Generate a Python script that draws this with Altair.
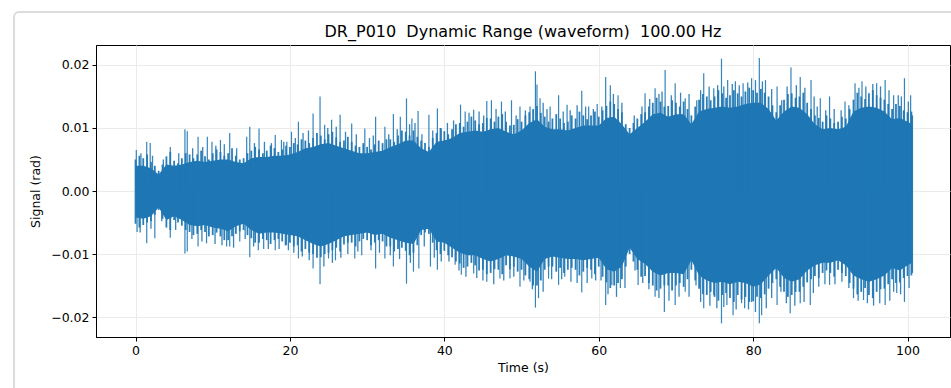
import altair as alt
import pandas as pd

# ---- data (values in milli-radians) ----
# outer edge of the waveform, sampled every second (t = 0..100) and at 100.6 s
env_t = list(range(101)) + [100.6]
env_hi = [5.0, 5.2, 4.6, 3.2, 5.5, 4.8, 5.2, 5.8, 5.8, 5.5,
          6.0, 6.2, 6.0, 5.6, 5.2, 6.4, 6.6, 6.4, 6.8, 6.6,
          7.0, 7.4, 8.0, 8.4, 8.8, 9.0, 8.5, 8.0, 7.8, 7.0,
          7.0, 7.4, 7.6, 8.2, 8.8, 9.4, 9.6, 8.0, 7.0, 9.2,
          9.5, 9.8, 10.8, 11.0, 11.2, 10.8, 11.5, 11.8, 11.0, 10.5,
          11.0, 12.5, 13.5, 11.8, 11.5, 11.5, 11.0, 11.5, 12.0, 12.0,
          11.8, 13.5, 13.8, 12.5, 10.0, 11.5, 12.5, 14.0, 14.2, 13.5,
          14.0, 14.2, 12.0, 14.5, 15.0, 15.0, 15.5, 15.2, 15.5, 15.8,
          16.0, 16.2, 15.0, 12.5, 14.5, 15.5, 15.0, 14.0, 12.0, 11.0,
          11.5, 11.0, 11.5, 14.5, 15.0, 15.5, 15.2, 14.5, 13.0, 13.5,
          12.5, 12.0]
env_lo = [5.2, 5.4, 4.8, 3.0, 5.8, 4.6, 5.5, 6.5, 6.8, 6.5,
          7.0, 7.2, 7.8, 6.8, 6.2, 7.5, 8.2, 7.8, 7.8, 8.0,
          8.2, 8.6, 9.2, 10.0, 10.5, 9.8, 9.0, 8.5, 8.2, 8.0,
          7.8, 8.2, 8.0, 8.8, 9.2, 9.5, 9.8, 7.0, 6.8, 9.4,
          9.5, 10.5, 11.5, 12.0, 11.8, 12.5, 13.0, 12.5, 11.8, 12.0,
          12.5, 14.0, 15.0, 12.5, 12.0, 12.2, 12.5, 12.5, 12.8, 12.5,
          12.0, 14.5, 15.0, 14.0, 10.0, 12.5, 13.5, 15.0, 15.5, 15.0,
          15.0, 15.2, 12.5, 15.5, 16.5, 16.8, 16.5, 17.0, 16.5, 16.8,
          17.5, 17.0, 15.5, 14.0, 16.0, 16.5, 16.0, 14.5, 13.5, 13.0,
          13.0, 12.5, 13.5, 15.5, 16.0, 16.5, 16.0, 15.5, 14.0, 14.5,
          13.5, 13.0]

# outer edge at the half seconds (t = 0.5 .. 100.5)
half_t = [k + 0.5 for k in range(101)]
half_hi = [5.6, 5.8, 4.0, 4.2, 6.2, 4.4, 6.0, 5.2, 6.4, 5.0,
           6.6, 5.6, 6.8, 5.0, 6.0, 7.0, 6.0, 7.2, 6.2, 7.2,
           7.6, 8.2, 7.6, 9.2, 8.2, 9.4, 7.8, 8.6, 7.2, 7.6,
           6.6, 8.0, 8.2, 7.8, 9.6, 8.8, 8.6, 7.6, 8.4, 10.0,
           9.0, 10.6, 10.2, 11.8, 10.6, 11.6, 11.0, 12.2, 10.4, 11.4,
           12.0, 13.0, 12.4, 11.0, 12.2, 10.8, 12.0, 12.6, 11.4, 12.6,
           12.8, 14.2, 13.0, 10.6, 10.8, 12.2, 13.4, 14.8, 13.4, 14.4,
           13.4, 13.0, 13.4, 15.4, 14.4, 16.0, 14.8, 16.0, 15.0, 16.4,
           15.6, 15.6, 13.6, 13.6, 15.4, 14.8, 15.6, 13.0, 11.6, 12.0,
           10.8, 11.8, 13.0, 15.6, 14.6, 16.0, 14.8, 13.8, 13.8, 12.8,
           12.6]
half_lo = [5.8, 5.0, 3.8, 4.4, 6.2, 5.0, 6.2, 7.0, 6.2, 7.2,
           6.6, 7.8, 7.2, 6.4, 7.0, 8.2, 7.6, 8.4, 7.6, 8.6,
           8.8, 9.6, 9.8, 10.6, 10.0, 9.4, 9.6, 8.2, 8.8, 7.6,
           8.6, 7.8, 8.8, 9.6, 9.0, 10.2, 8.6, 6.6, 8.2, 10.0,
           10.2, 11.2, 12.2, 11.4, 12.6, 13.2, 12.4, 13.2, 12.4, 12.8,
           13.4, 15.0, 14.2, 12.0, 12.8, 13.0, 12.2, 13.4, 12.2, 13.2,
           13.6, 15.4, 14.6, 12.0, 11.2, 13.6, 14.6, 15.8, 15.0, 15.8,
           14.6, 14.0, 14.2, 16.4, 16.0, 17.4, 16.2, 17.6, 17.2, 17.6,
           16.8, 16.4, 14.6, 15.2, 16.8, 16.0, 15.2, 14.0, 13.8, 12.6,
           13.6, 13.0, 14.6, 16.4, 15.4, 17.0, 15.6, 14.8, 14.6, 13.8,
           13.4]

# solid (dense) part of the waveform, every second
core_hi = [4.0, 4.0, 3.6, 2.6, 4.2, 4.0, 4.2, 4.6, 4.8, 4.6,
           4.8, 5.0, 5.0, 4.6, 4.4, 5.2, 5.4, 5.4, 5.6, 5.6,
           5.8, 6.2, 6.8, 7.0, 7.4, 7.6, 7.2, 6.8, 6.4, 6.0,
           6.0, 6.2, 6.4, 7.0, 7.4, 8.0, 8.0, 6.8, 6.2, 7.8,
           8.0, 8.4, 9.2, 9.4, 9.6, 9.4, 9.8, 10.0, 9.4, 9.0,
           9.6, 10.8, 11.4, 10.2, 9.8, 9.8, 9.6, 10.0, 10.4, 10.4,
           10.4, 11.6, 11.8, 10.6, 9.0, 10.0, 11.0, 12.2, 12.4, 11.8,
           12.2, 12.2, 10.6, 12.6, 13.0, 13.2, 13.4, 13.2, 13.4, 13.8,
           14.0, 14.0, 13.0, 11.2, 12.6, 13.4, 13.2, 12.2, 10.6, 9.8,
           10.0, 9.8, 10.2, 12.6, 13.2, 13.4, 13.2, 12.6, 11.4, 11.6,
           11.0, 10.6]
core_lo = [4.2, 4.4, 4.0, 2.6, 4.6, 4.0, 4.6, 5.4, 5.6, 5.4,
           5.8, 6.0, 6.4, 5.6, 5.2, 6.2, 6.8, 6.6, 6.6, 6.8,
           7.0, 7.2, 7.8, 8.4, 8.8, 8.4, 7.8, 7.2, 7.0, 6.8,
           6.6, 7.0, 6.8, 7.4, 7.8, 8.2, 8.4, 6.2, 6.0, 8.0,
           8.2, 9.0, 9.8, 10.2, 10.2, 10.8, 11.2, 10.8, 10.2, 10.4,
           10.8, 12.0, 12.8, 10.8, 10.4, 10.6, 10.8, 10.8, 11.0, 10.8,
           10.6, 12.4, 12.8, 12.0, 9.0, 10.8, 11.6, 12.8, 13.4, 13.0,
           13.0, 13.2, 11.0, 13.4, 14.2, 14.6, 14.4, 14.8, 14.4, 14.6,
           15.2, 14.8, 13.4, 12.2, 13.8, 14.4, 14.0, 12.6, 11.8, 11.4,
           11.4, 11.0, 11.8, 13.4, 14.0, 14.4, 14.0, 13.4, 12.2, 12.6,
           11.8, 11.4]

# medium peaks standing out of the edge (time s, |value| mrad)
mid_hi = [(0.7, 6.0), (2.2, 5.6), (3.6, 5.0), (5.6, 6.0), (7.4, 6.8), (8.7, 7.0), (10.4, 7.2),
          (11.5, 7.4), (13.1, 6.8), (15.4, 7.6), (16.7, 7.8), (17.6, 7.6), (19.2, 7.8),
          (20.7, 8.4), (21.7, 9.2), (22.4, 9.6), (24.9, 10.0), (26.0, 10.2), (27.2, 9.4),
          (28.6, 9.0), (30.3, 8.4), (30.8, 8.8), (32.8, 9.0), (33.9, 9.8), (35.5, 10.6),
          (36.2, 10.8), (37.1, 9.0), (38.5, 9.6),
          (40.4, 10.8), (41.2, 11.2), (43.2, 12.4), (44.5, 12.6), (45.1, 12.0), (46.7, 13.0),
          (47.9, 12.6), (49.3, 12.0), (50.5, 12.8), (52.8, 14.0), (53.3, 13.0), (55.4, 12.6),
          (56.3, 12.8), (57.2, 13.6), (58.3, 13.4), (59.3, 13.0),
          (60.4, 13.4), (61.9, 15.4), (63.0, 14.0), (64.6, 12.0), (65.6, 13.4), (66.6, 14.6),
          (67.8, 15.4), (68.2, 15.8), (69.4, 15.2), (70.6, 15.6), (71.7, 15.4), (72.7, 14.4),
          (73.2, 16.0), (74.3, 16.6), (75.4, 16.8), (76.2, 16.6), (77.3, 17.0), (78.2, 16.8),
          (79.3, 17.2),
          (80.3, 17.6), (81.2, 17.4), (82.4, 16.2), (83.7, 14.4), (84.4, 16.6), (85.6, 16.8),
          (86.7, 16.4), (87.9, 15.0), (88.3, 13.4), (89.4, 12.8), (90.5, 13.0), (91.4, 12.8),
          (92.4, 13.6), (93.7, 16.4), (94.6, 16.6), (95.5, 17.0), (96.5, 16.6), (97.6, 16.0),
          (98.8, 15.2), (99.2, 15.0), (100.1, 14.2)]
mid_lo = [(0.6, 6.6), (2.0, 6.0), (3.4, 4.8), (5.2, 6.2), (7.3, 7.6), (8.6, 8.0), (10.3, 8.4),
          (11.2, 8.6), (12.7, 9.0), (14.2, 7.6), (15.3, 8.8), (17.2, 9.2), (18.6, 9.2), (19.8, 9.4),
          (20.5, 9.8), (21.6, 10.4), (22.5, 11.0), (24.4, 12.0), (25.5, 11.4), (26.6, 10.6),
          (27.5, 10.0), (28.8, 9.6), (30.5, 9.4), (31.6, 9.8), (33.0, 10.2), (34.2, 10.8),
          (35.6, 11.4), (37.4, 8.8), (38.7, 10.6), (39.6, 11.2),
          (40.6, 11.2), (41.9, 12.6), (42.8, 13.6), (44.2, 13.8), (45.0, 14.2), (46.4, 14.8),
          (47.7, 14.2), (49.0, 13.6), (50.3, 14.2), (51.4, 15.6), (52.8, 16.0), (53.9, 14.0),
          (55.2, 14.0), (56.4, 14.4), (57.2, 14.6), (58.5, 14.6), (59.6, 14.2),
          (60.3, 14.2), (61.2, 16.4), (62.3, 16.8), (63.4, 15.4), (64.7, 12.6), (65.7, 14.6),
          (66.5, 15.6), (67.8, 17.0), (69.1, 17.4), (70.4, 16.8), (71.7, 16.8), (72.6, 15.0),
          (73.2, 17.6), (74.4, 18.2), (75.3, 18.6), (76.2, 18.4), (77.8, 18.8), (78.9, 18.6),
          (79.4, 18.8),
          (80.3, 19.2), (81.7, 18.6), (82.4, 17.0), (83.6, 16.0), (84.3, 17.8), (85.4, 18.2),
          (86.6, 17.6), (87.8, 16.2), (88.5, 15.2), (89.3, 14.8), (90.6, 14.8), (91.5, 14.4),
          (92.4, 15.4), (93.6, 17.4), (94.8, 17.8), (95.6, 18.2), (96.4, 17.8), (97.7, 17.4),
          (98.2, 16.0), (99.1, 16.4), (100.2, 15.4)]

# tall isolated peaks (time s, |value| mrad)
spikes_hi = [(0.1, 6.5), (1.45, 7.8), (1.9, 7.6), (4.5, 7.0), (6.4, 9.8), (6.7, 9.5),
             (8.1, 8.6), (9.3, 8.6), (9.9, 7.8), (11.0, 8.1), (12.2, 9.2), (14.4, 8.6),
             (14.8, 10.2), (16.0, 9.9), (18.1, 8.9), (18.9, 8.1), (19.6, 7.8),
             (20.2, 9.4), (21.1, 11.0), (23.0, 12.3), (23.9, 15.0), (24.5, 10.5), (25.4, 11.3),
             (26.5, 12.1), (28.0, 10.7), (29.7, 9.9), (31.1, 11.8), (32.3, 10.2), (33.4, 12.2),
             (34.3, 11.8), (35.1, 14.7), (35.8, 11.5), (36.6, 12.7), (38.0, 12.1), (39.1, 13.1),
             (39.6, 9.9),
             (42.1, 13.7), (42.7, 12.6), (43.8, 12.9), (45.5, 14.3), (46.1, 14.4), (47.4, 14.2),
             (48.7, 14.4), (49.8, 13.4), (51.1, 13.4), (51.8, 19.0), (52.0, 16.9), (52.4, 14.7),
             (53.7, 13.4), (54.8, 15.2), (55.9, 13.7), (57.8, 15.9), (58.7, 13.4), (59.8, 13.8),
             (60.9, 18.1), (61.5, 16.8), (62.5, 15.2), (66.0, 15.5), (67.3, 16.3), (68.6, 19.2),
             (69.9, 17.1), (71.2, 14.7), (73.6, 18.7), (74.9, 16.3), (75.9, 21.0), (76.7, 17.6),
             (77.7, 17.4), (78.7, 17.1), (79.8, 17.9),
             (80.8, 21.1), (81.6, 17.6), (83.1, 16.6), (84.9, 19.6), (86.1, 18.1), (87.5, 17.6),
             (88.7, 14.7), (89.9, 15.0), (91.9, 14.2), (93.2, 17.1), (94.1, 17.4), (96.0, 17.1),
             (97.1, 17.6), (98.2, 15.2), (99.6, 17.9), (100.4, 15.2)]

spikes_lo = [(0.2, 6.5), (1.45, 8.3), (2.5, 7.5), (4.5, 7.4), (6.4, 9.9), (6.7, 9.6),
             (8.1, 8.8), (9.2, 8.3), (11.8, 8.8), (12.2, 8.8), (13.5, 8.0), (14.8, 10.5),
             (15.9, 9.4), (16.6, 9.2), (18.1, 9.4), (19.4, 8.6),
             (21.1, 10.7), (23.0, 12.3), (23.9, 14.8), (25.0, 10.7), (25.9, 11.0), (28.4, 10.7),
             (29.3, 10.2), (31.1, 12.3), (32.3, 10.7), (33.4, 12.0), (35.1, 14.7), (36.0, 12.8),
             (36.7, 12.3), (38.2, 12.0), (39.1, 12.5),
             (41.4, 11.7), (42.2, 13.3), (43.8, 13.1), (45.5, 14.4), (47.2, 13.9), (48.5, 13.9),
             (49.8, 15.2), (51.1, 14.4), (51.8, 18.5), (52.2, 17.0), (53.5, 13.9), (54.8, 14.9),
             (55.6, 13.6), (57.8, 16.1), (59.1, 13.9),
             (60.9, 18.1), (61.7, 14.9), (62.8, 15.4), (65.1, 14.9), (67.3, 16.8), (68.5, 19.2),
             (69.9, 18.1), (71.2, 16.0), (73.6, 18.6), (74.9, 16.5), (75.9, 21.0), (76.6, 18.1),
             (77.4, 19.7), (78.5, 17.8), (79.8, 17.6),
             (80.8, 21.0), (81.1, 19.7), (83.1, 18.1), (84.8, 19.4), (86.1, 17.8), (87.4, 18.1),
             (89.9, 14.9), (93.0, 17.0), (94.3, 17.3), (97.1, 18.1), (98.6, 16.2), (99.6, 17.6)]

x_ticks = [0, 20, 40, 60, 80, 100]
y_ticks = [-0.02, -0.01, 0.0, 0.01, 0.02]
TITLE = "DR_P010\u00a0\u00a0Dynamic Range (waveform)\u00a0\u00a0100.00 Hz"

MRAD = 0.001
BLUE = "#1f77b4"
FONT = "DejaVu Sans"
PLOT_W, PLOT_H = 854, 292

core = pd.DataFrame({"t": env_t,
                     "hi": [v * MRAD for v in core_hi],
                     "lo": [-v * MRAD for v in core_lo]})
edge_rows = []
for t, h, l in zip(env_t, env_hi, env_lo):
    edge_rows.append({"t": t, "v": h * MRAD})
    edge_rows.append({"t": t, "v": -l * MRAD})
for t, h, l in zip(half_t, half_hi, half_lo):
    edge_rows.append({"t": t, "v": h * MRAD})
    edge_rows.append({"t": t, "v": -l * MRAD})
edge = pd.DataFrame(edge_rows)
edge["z"] = 0.0

mid = pd.DataFrame(
    [{"t": t, "v": v * MRAD} for t, v in mid_hi] +
    [{"t": t, "v": -v * MRAD} for t, v in mid_lo])
mid["z"] = 0.0

spk = pd.DataFrame(
    [{"t": t, "v": v * MRAD} for t, v in spikes_hi] +
    [{"t": t, "v": -v * MRAD} for t, v in spikes_lo])
spk["z"] = 0.0

xs = alt.Scale(domain=[-5.12, 105.5], nice=False, zero=False)
ys = alt.Scale(domain=[-0.02317, 0.02317], nice=False, zero=False)

x_axis = alt.Axis(values=x_ticks, title="Time (s)", format="d",
                  grid=True, gridColor="#ebebeb", gridWidth=1,
                  domainColor="black", tickColor="black", tickSize=4,
                  labelFont=FONT, labelFontSize=12.5, labelColor="black",
                  labelPadding=3, titleFont=FONT, titleFontSize=12.5,
                  titleFontWeight="normal", titleColor="black", titlePadding=5)
y_axis = alt.Axis(values=y_ticks, title="Signal (rad)",
                  labelExpr="replace(format(datum.value, '.2f'), '-', '\u2212')",
                  grid=True, gridColor="#ebebeb", gridWidth=1,
                  domainColor="black", tickColor="black", tickSize=4,
                  labelFont=FONT, labelFontSize=12.5, labelColor="black",
                  labelPadding=3, titleFont=FONT, titleFontSize=12.5,
                  titleFontWeight="normal", titleColor="black", titlePadding=8)

one = pd.DataFrame({"k": [0]})

# light card frame around the figure (decoration of the page)
frame = alt.Chart(one).mark_rect(
    fill="white", fillOpacity=0, stroke="#dcdcdc", strokeWidth=2,
    cornerRadius=5, clip=False
).encode(
    x=alt.value(-82), x2=alt.value(900), y=alt.value(-33), y2=alt.value(400)
)

# chart title, drawn as a text mark centred over the plot
title = alt.Chart(one).mark_text(
    text=TITLE, font=FONT, fontSize=16, color="black",
    align="center", baseline="middle", clip=False
).encode(x=alt.value(PLOT_W / 2), y=alt.value(-13))

core_layer = alt.Chart(core).mark_area(color=BLUE, interpolate="linear").encode(
    x=alt.X("t:Q", scale=xs, axis=x_axis),
    y=alt.Y("hi:Q", scale=ys, axis=y_axis),
    y2="lo:Q",
)

edge_layer = alt.Chart(edge).mark_rule(color=BLUE, strokeWidth=1.8, opacity=0.95).encode(
    x=alt.X("t:Q", scale=xs),
    y=alt.Y("z:Q", scale=ys),
    y2="v:Q",
)

mid_layer = alt.Chart(mid).mark_rule(color=BLUE, strokeWidth=1.3, opacity=0.9).encode(
    x=alt.X("t:Q", scale=xs),
    y=alt.Y("z:Q", scale=ys),
    y2="v:Q",
)

spike_layer = alt.Chart(spk).mark_rule(color=BLUE, strokeWidth=1.2, opacity=0.9).encode(
    x=alt.X("t:Q", scale=xs),
    y=alt.Y("z:Q", scale=ys),
    y2="v:Q",
)

chart = alt.layer(frame, core_layer, edge_layer, mid_layer, spike_layer, title).properties(
    width=PLOT_W, height=PLOT_H,
    autosize=alt.AutoSizeParams(type="none"),
    padding={"left": 96, "top": 45, "right": 1, "bottom": 51},
    background="white",
).configure_view(stroke="black", strokeWidth=1)

chart.save("out.html", embed_options={"renderer": "svg", "actions": False})
